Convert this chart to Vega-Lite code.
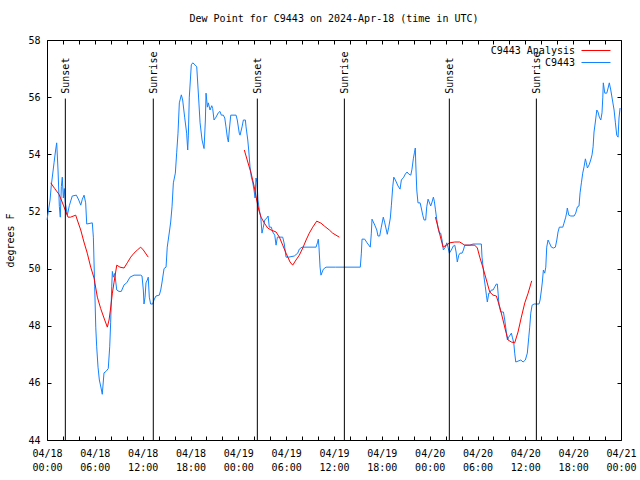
{
"$schema":"https://vega.github.io/schema/vega-lite/v6.json",
"width":574,"height":400,
"autosize":{"type":"none"},
"padding":{"left":47,"top":40,"right":19,"bottom":40},
"background":"white",
"title":{"text":"Dew Point for C9443 on 2024-Apr-18 (time in UTC)","font":"DejaVu Sans Mono","fontSize":10,"fontWeight":"normal","offset":11,"color":"black"},
"config":{
 "view":{"stroke":"black","strokeWidth":1},
 "axis":{"labelFont":"DejaVu Sans Mono","labelFontSize":10,"labelColor":"black","titleFont":"DejaVu Sans Mono","titleFontSize":10,"titleFontWeight":"normal","titleColor":"black","grid":false,"domain":false,"tickColor":"black","tickWidth":1},
 "legend":{"labelFont":"DejaVu Sans Mono","labelFontSize":10,"labelColor":"black"}
},
"datasets":{
"obs":[
{"t":"2024-04-18T00:00:00Z","v":51.7},{"t":"2024-04-18T00:23:00Z","v":52.4},{"t":"2024-04-18T00:32:00Z","v":52.9},{"t":"2024-04-18T00:53:00Z","v":53.7},{"t":"2024-04-18T01:05:00Z","v":54.15},{"t":"2024-04-18T01:13:00Z","v":54.4},{"t":"2024-04-18T01:23:00Z","v":53.45},{"t":"2024-04-18T01:33:00Z","v":52.17},{"t":"2024-04-18T01:40:00Z","v":51.8},{"t":"2024-04-18T01:48:00Z","v":52.87},{"t":"2024-04-18T01:55:00Z","v":53.2},{"t":"2024-04-18T02:03:00Z","v":52.47},{"t":"2024-04-18T02:10:00Z","v":52.8},{"t":"2024-04-18T02:18:00Z","v":52.3},{"t":"2024-04-18T02:33:00Z","v":51.87},{"t":"2024-04-18T02:48:00Z","v":52.2},{"t":"2024-04-18T03:10:00Z","v":52.54},{"t":"2024-04-18T03:41:00Z","v":52.57},{"t":"2024-04-18T03:59:00Z","v":52.4},{"t":"2024-04-18T04:14:00Z","v":52.22},{"t":"2024-04-18T04:26:00Z","v":52.43},{"t":"2024-04-18T04:39:00Z","v":52.57},{"t":"2024-04-18T04:51:00Z","v":52.3},{"t":"2024-04-18T04:59:00Z","v":51.56},{"t":"2024-04-18T05:41:00Z","v":51.6},{"t":"2024-04-18T05:49:00Z","v":51.1},{"t":"2024-04-18T05:59:00Z","v":49.36},{"t":"2024-04-18T06:07:00Z","v":47.95},{"t":"2024-04-18T06:14:00Z","v":47.26},{"t":"2024-04-18T06:24:00Z","v":46.55},{"t":"2024-04-18T06:34:00Z","v":46.1},{"t":"2024-04-18T06:47:00Z","v":45.82},{"t":"2024-04-18T06:56:00Z","v":45.6},{"t":"2024-04-18T07:09:00Z","v":46.35},{"t":"2024-04-18T07:24:00Z","v":46.4},{"t":"2024-04-18T07:41:00Z","v":46.5},{"t":"2024-04-18T07:52:00Z","v":47.26},{"t":"2024-04-18T07:59:00Z","v":48.1},{"t":"2024-04-18T08:07:00Z","v":49.36},{"t":"2024-04-18T08:12:00Z","v":49.9},{"t":"2024-04-18T08:19:00Z","v":49.7},{"t":"2024-04-18T08:30:00Z","v":49.83},{"t":"2024-04-18T08:45:00Z","v":49.25},{"t":"2024-04-18T09:02:00Z","v":49.2},{"t":"2024-04-18T09:19:00Z","v":49.2},{"t":"2024-04-18T09:40:00Z","v":49.43},{"t":"2024-04-18T10:00:00Z","v":49.5},{"t":"2024-04-18T10:25:00Z","v":49.7},{"t":"2024-04-18T10:55:00Z","v":49.77},{"t":"2024-04-18T11:45:00Z","v":49.77},{"t":"2024-04-18T11:55:00Z","v":49.74},{"t":"2024-04-18T12:05:00Z","v":49.25},{"t":"2024-04-18T12:10:00Z","v":48.76},{"t":"2024-04-18T12:18:00Z","v":49.0},{"t":"2024-04-18T12:25:00Z","v":49.5},{"t":"2024-04-18T12:35:00Z","v":49.6},{"t":"2024-04-18T12:42:00Z","v":49.7},{"t":"2024-04-18T12:50:00Z","v":49.0},{"t":"2024-04-18T13:00:00Z","v":48.76},{"t":"2024-04-18T13:16:00Z","v":48.76},{"t":"2024-04-18T13:25:00Z","v":48.9},{"t":"2024-04-18T13:40:00Z","v":49.04},{"t":"2024-04-18T14:05:00Z","v":49.07},{"t":"2024-04-18T14:16:00Z","v":49.25},{"t":"2024-04-18T14:26:00Z","v":49.53},{"t":"2024-04-18T14:41:00Z","v":50.0},{"t":"2024-04-18T14:56:00Z","v":50.05},{"t":"2024-04-18T15:05:00Z","v":50.75},{"t":"2024-04-18T15:21:00Z","v":51.28},{"t":"2024-04-18T15:31:00Z","v":51.63},{"t":"2024-04-18T15:41:00Z","v":52.16},{"t":"2024-04-18T15:51:00Z","v":53.0},{"t":"2024-04-18T16:06:00Z","v":53.34},{"t":"2024-04-18T16:16:00Z","v":54.05},{"t":"2024-04-18T16:26:00Z","v":54.74},{"t":"2024-04-18T16:36:00Z","v":55.8},{"t":"2024-04-18T16:51:00Z","v":56.08},{"t":"2024-04-18T17:01:00Z","v":55.9},{"t":"2024-04-18T17:16:00Z","v":55.3},{"t":"2024-04-18T17:31:00Z","v":54.74},{"t":"2024-04-18T17:39:00Z","v":54.15},{"t":"2024-04-18T17:44:00Z","v":54.67},{"t":"2024-04-18T17:51:00Z","v":56.0},{"t":"2024-04-18T18:06:00Z","v":57.13},{"t":"2024-04-18T18:17:00Z","v":57.2},{"t":"2024-04-18T18:34:00Z","v":57.13},{"t":"2024-04-18T18:47:00Z","v":57.06},{"t":"2024-04-18T19:02:00Z","v":55.9},{"t":"2024-04-18T19:12:00Z","v":55.1},{"t":"2024-04-18T19:27:00Z","v":54.5},{"t":"2024-04-18T19:42:00Z","v":54.2},{"t":"2024-04-18T19:52:00Z","v":55.2},{"t":"2024-04-18T19:57:00Z","v":56.14},{"t":"2024-04-18T20:07:00Z","v":55.65},{"t":"2024-04-18T20:14:00Z","v":55.8},{"t":"2024-04-18T20:27:00Z","v":55.55},{"t":"2024-04-18T20:40:00Z","v":55.7},{"t":"2024-04-18T20:47:00Z","v":55.6},{"t":"2024-04-18T20:57:00Z","v":55.2},{"t":"2024-04-18T21:12:00Z","v":55.3},{"t":"2024-04-18T21:29:00Z","v":55.45},{"t":"2024-04-18T21:42:00Z","v":55.5},{"t":"2024-04-18T21:52:00Z","v":55.37},{"t":"2024-04-18T22:07:00Z","v":55.37},{"t":"2024-04-18T22:18:00Z","v":55.27},{"t":"2024-04-18T22:27:00Z","v":54.96},{"t":"2024-04-18T22:37:00Z","v":54.6},{"t":"2024-04-18T22:45:00Z","v":54.43},{"t":"2024-04-18T22:52:00Z","v":54.85},{"t":"2024-04-18T23:03:00Z","v":55.37},{"t":"2024-04-18T23:43:00Z","v":55.37},{"t":"2024-04-18T23:52:00Z","v":55.2},
{"t":"2024-04-19T00:07:00Z","v":54.74},{"t":"2024-04-19T00:13:00Z","v":54.67},{"t":"2024-04-19T00:28:00Z","v":54.96},{"t":"2024-04-19T00:38:00Z","v":55.2},{"t":"2024-04-19T00:53:00Z","v":55.2},{"t":"2024-04-19T00:58:00Z","v":54.96},{"t":"2024-04-19T01:11:00Z","v":54.5},{"t":"2024-04-19T01:18:00Z","v":54.15},{"t":"2024-04-19T01:28:00Z","v":53.56},{"t":"2024-04-19T01:38:00Z","v":53.2},{"t":"2024-04-19T01:48:00Z","v":53.03},{"t":"2024-04-19T01:58:00Z","v":52.75},{"t":"2024-04-19T02:06:00Z","v":52.47},{"t":"2024-04-19T02:13:00Z","v":53.17},{"t":"2024-04-19T02:21:00Z","v":53.0},{"t":"2024-04-19T02:28:00Z","v":52.4},{"t":"2024-04-19T02:38:00Z","v":52.05},{"t":"2024-04-19T02:49:00Z","v":51.8},{"t":"2024-04-19T02:58:00Z","v":51.24},{"t":"2024-04-19T03:08:00Z","v":51.45},{"t":"2024-04-19T03:19:00Z","v":51.7},{"t":"2024-04-19T03:34:00Z","v":51.77},{"t":"2024-04-19T03:44:00Z","v":51.84},{"t":"2024-04-19T03:53:00Z","v":51.45},{"t":"2024-04-19T04:08:00Z","v":51.45},{"t":"2024-04-19T04:19:00Z","v":51.28},{"t":"2024-04-19T04:34:00Z","v":51.17},{"t":"2024-04-19T04:44:00Z","v":50.82},{"t":"2024-04-19T04:54:00Z","v":51.1},{"t":"2024-04-19T05:34:00Z","v":51.1},{"t":"2024-04-19T05:46:00Z","v":50.86},{"t":"2024-04-19T05:59:00Z","v":50.4},{"t":"2024-04-19T06:19:00Z","v":50.4},{"t":"2024-04-19T07:01:00Z","v":50.44},{"t":"2024-04-19T07:27:00Z","v":50.54},{"t":"2024-04-19T07:39:00Z","v":50.68},{"t":"2024-04-19T07:59:00Z","v":50.75},{"t":"2024-04-19T09:45:00Z","v":50.75},{"t":"2024-04-19T09:55:00Z","v":50.9},{"t":"2024-04-19T10:02:00Z","v":51.03},{"t":"2024-04-19T10:07:00Z","v":50.75},{"t":"2024-04-19T10:15:00Z","v":50.05},{"t":"2024-04-19T10:22:00Z","v":49.77},{"t":"2024-04-19T10:40:00Z","v":49.98},{"t":"2024-04-19T11:00:00Z","v":50.05},{"t":"2024-04-19T12:10:00Z","v":50.05},{"t":"2024-04-19T15:18:00Z","v":50.05},{"t":"2024-04-19T15:26:00Z","v":50.54},{"t":"2024-04-19T15:31:00Z","v":51.03},{"t":"2024-04-19T15:51:00Z","v":51.03},{"t":"2024-04-19T16:09:00Z","v":50.9},{"t":"2024-04-19T16:33:00Z","v":50.75},{"t":"2024-04-19T16:41:00Z","v":51.24},{"t":"2024-04-19T16:46:00Z","v":51.73},{"t":"2024-04-19T17:07:00Z","v":51.52},{"t":"2024-04-19T17:22:00Z","v":51.35},{"t":"2024-04-19T17:31:00Z","v":51.14},{"t":"2024-04-19T17:44:00Z","v":51.14},{"t":"2024-04-19T17:56:00Z","v":51.45},{"t":"2024-04-19T18:11:00Z","v":51.8},{"t":"2024-04-19T18:22:00Z","v":51.6},{"t":"2024-04-19T18:34:00Z","v":51.35},{"t":"2024-04-19T18:41:00Z","v":51.2},{"t":"2024-04-19T18:52:00Z","v":51.45},{"t":"2024-04-19T19:04:00Z","v":51.77},{"t":"2024-04-19T19:12:00Z","v":52.22},{"t":"2024-04-19T19:22:00Z","v":52.86},{"t":"2024-04-19T19:30:00Z","v":53.2},{"t":"2024-04-19T19:42:00Z","v":53.1},{"t":"2024-04-19T20:02:00Z","v":52.89},{"t":"2024-04-19T20:17:00Z","v":52.78},{"t":"2024-04-19T20:27:00Z","v":53.1},{"t":"2024-04-19T20:45:00Z","v":53.2},{"t":"2024-04-19T20:57:00Z","v":53.31},{"t":"2024-04-19T21:10:00Z","v":53.38},{"t":"2024-04-19T21:22:00Z","v":53.31},{"t":"2024-04-19T21:38:00Z","v":53.27},{"t":"2024-04-19T21:47:00Z","v":53.48},{"t":"2024-04-19T21:57:00Z","v":53.84},{"t":"2024-04-19T22:05:00Z","v":54.05},{"t":"2024-04-19T22:12:00Z","v":54.22},{"t":"2024-04-19T22:15:00Z","v":53.73},{"t":"2024-04-19T22:23:00Z","v":52.75},{"t":"2024-04-19T22:32:00Z","v":52.3},{"t":"2024-04-19T22:48:00Z","v":52.3},{"t":"2024-04-19T22:57:00Z","v":52.12},{"t":"2024-04-19T23:08:00Z","v":51.87},{"t":"2024-04-19T23:18:00Z","v":51.7},{"t":"2024-04-19T23:30:00Z","v":51.7},{"t":"2024-04-19T23:38:00Z","v":52.16},{"t":"2024-04-19T23:48:00Z","v":52.43},
{"t":"2024-04-20T00:08:00Z","v":52.19},{"t":"2024-04-20T00:18:00Z","v":52.33},{"t":"2024-04-20T00:28:00Z","v":52.5},{"t":"2024-04-20T00:35:00Z","v":52.36},{"t":"2024-04-20T00:43:00Z","v":52.08},{"t":"2024-04-20T00:53:00Z","v":51.73},{"t":"2024-04-20T01:03:00Z","v":51.42},{"t":"2024-04-20T01:13:00Z","v":51.24},{"t":"2024-04-20T01:23:00Z","v":51.24},{"t":"2024-04-20T01:33:00Z","v":51.0},{"t":"2024-04-20T01:43:00Z","v":50.65},{"t":"2024-04-20T01:58:00Z","v":50.75},{"t":"2024-04-20T02:09:00Z","v":50.9},{"t":"2024-04-20T02:18:00Z","v":50.75},{"t":"2024-04-20T02:28:00Z","v":50.54},{"t":"2024-04-20T02:43:00Z","v":50.65},{"t":"2024-04-20T02:58:00Z","v":50.79},{"t":"2024-04-20T03:09:00Z","v":50.82},{"t":"2024-04-20T03:19:00Z","v":50.58},{"t":"2024-04-20T03:28:00Z","v":50.23},{"t":"2024-04-20T03:39:00Z","v":50.47},{"t":"2024-04-20T03:49:00Z","v":50.54},{"t":"2024-04-20T04:04:00Z","v":50.54},{"t":"2024-04-20T04:14:00Z","v":50.65},{"t":"2024-04-20T04:24:00Z","v":50.82},{"t":"2024-04-20T05:02:00Z","v":50.82},{"t":"2024-04-20T05:27:00Z","v":50.86},{"t":"2024-04-20T06:29:00Z","v":50.86},{"t":"2024-04-20T06:34:00Z","v":50.4},{"t":"2024-04-20T06:42:00Z","v":50.05},{"t":"2024-04-20T06:49:00Z","v":49.7},{"t":"2024-04-20T06:59:00Z","v":49.36},{"t":"2024-04-20T07:07:00Z","v":49.07},{"t":"2024-04-20T07:14:00Z","v":48.83},{"t":"2024-04-20T07:25:00Z","v":49.14},{"t":"2024-04-20T07:32:00Z","v":49.14},{"t":"2024-04-20T07:44:00Z","v":49.25},{"t":"2024-04-20T07:57:00Z","v":49.25},{"t":"2024-04-20T08:10:00Z","v":49.36},{"t":"2024-04-20T08:22:00Z","v":49.46},{"t":"2024-04-20T08:29:00Z","v":49.46},{"t":"2024-04-20T08:35:00Z","v":49.14},{"t":"2024-04-20T08:42:00Z","v":48.72},{"t":"2024-04-20T08:55:00Z","v":48.48},{"t":"2024-04-20T09:15:00Z","v":48.48},{"t":"2024-04-20T09:25:00Z","v":48.2},{"t":"2024-04-20T09:35:00Z","v":47.85},{"t":"2024-04-20T09:45:00Z","v":47.5},{"t":"2024-04-20T09:55:00Z","v":47.6},{"t":"2024-04-20T10:05:00Z","v":47.67},{"t":"2024-04-20T10:15:00Z","v":47.74},{"t":"2024-04-20T10:22:00Z","v":47.6},{"t":"2024-04-20T10:33:00Z","v":47.4},{"t":"2024-04-20T10:40:00Z","v":47.04},{"t":"2024-04-20T10:48:00Z","v":46.73},{"t":"2024-04-20T11:05:00Z","v":46.76},{"t":"2024-04-20T11:26:00Z","v":46.8},{"t":"2024-04-20T11:43:00Z","v":46.73},{"t":"2024-04-20T12:00:00Z","v":46.8},{"t":"2024-04-20T12:15:00Z","v":47.04},{"t":"2024-04-20T12:26:00Z","v":47.6},{"t":"2024-04-20T12:33:00Z","v":47.95},{"t":"2024-04-20T12:41:00Z","v":48.44},{"t":"2024-04-20T12:51:00Z","v":48.72},{"t":"2024-04-20T13:06:00Z","v":48.76},{"t":"2024-04-20T13:43:00Z","v":48.76},{"t":"2024-04-20T13:51:00Z","v":48.9},{"t":"2024-04-20T14:01:00Z","v":49.25},{"t":"2024-04-20T14:08:00Z","v":49.53},{"t":"2024-04-20T14:16:00Z","v":49.95},{"t":"2024-04-20T14:26:00Z","v":49.84},{"t":"2024-04-20T14:34:00Z","v":50.05},{"t":"2024-04-20T14:41:00Z","v":50.75},{"t":"2024-04-20T14:51:00Z","v":51.0},{"t":"2024-04-20T15:01:00Z","v":50.9},{"t":"2024-04-20T15:16:00Z","v":50.75},{"t":"2024-04-20T15:31:00Z","v":50.72},{"t":"2024-04-20T15:46:00Z","v":50.75},{"t":"2024-04-20T15:57:00Z","v":51.0},{"t":"2024-04-20T16:06:00Z","v":51.28},{"t":"2024-04-20T16:16:00Z","v":51.45},{"t":"2024-04-20T16:42:00Z","v":51.45},{"t":"2024-04-20T16:51:00Z","v":51.59},{"t":"2024-04-20T17:04:00Z","v":51.8},{"t":"2024-04-20T17:12:00Z","v":51.98},{"t":"2024-04-20T17:16:00Z","v":52.12},{"t":"2024-04-20T17:27:00Z","v":51.87},{"t":"2024-04-20T17:42:00Z","v":51.84},{"t":"2024-04-20T18:07:00Z","v":51.84},{"t":"2024-04-20T18:19:00Z","v":51.94},{"t":"2024-04-20T18:32:00Z","v":52.16},{"t":"2024-04-20T18:44:00Z","v":52.19},{"t":"2024-04-20T18:52:00Z","v":52.65},{"t":"2024-04-20T19:02:00Z","v":53.0},{"t":"2024-04-20T19:12:00Z","v":53.34},{"t":"2024-04-20T19:22:00Z","v":53.56},{"t":"2024-04-20T19:32:00Z","v":53.84},{"t":"2024-04-20T19:39:00Z","v":53.7},{"t":"2024-04-20T19:47:00Z","v":53.52},{"t":"2024-04-20T20:00:00Z","v":53.63},{"t":"2024-04-20T20:12:00Z","v":53.8},{"t":"2024-04-20T20:22:00Z","v":53.98},{"t":"2024-04-20T20:30:00Z","v":54.26},{"t":"2024-04-20T20:37:00Z","v":54.78},{"t":"2024-04-20T20:47:00Z","v":55.13},{"t":"2024-04-20T20:58:00Z","v":55.55},{"t":"2024-04-20T21:07:00Z","v":55.48},{"t":"2024-04-20T21:17:00Z","v":55.3},{"t":"2024-04-20T21:28:00Z","v":55.2},{"t":"2024-04-20T21:37:00Z","v":55.45},{"t":"2024-04-20T21:43:00Z","v":56.0},{"t":"2024-04-20T21:47:00Z","v":56.5},{"t":"2024-04-20T21:58:00Z","v":56.14},{"t":"2024-04-20T22:13:00Z","v":56.14},{"t":"2024-04-20T22:23:00Z","v":56.32},{"t":"2024-04-20T22:32:00Z","v":56.5},{"t":"2024-04-20T22:43:00Z","v":56.25},{"t":"2024-04-20T22:58:00Z","v":55.83},{"t":"2024-04-20T23:08:00Z","v":55.55},{"t":"2024-04-20T23:18:00Z","v":55.1},{"t":"2024-04-20T23:28:00Z","v":54.67},{"t":"2024-04-20T23:38:00Z","v":54.6},{"t":"2024-04-20T23:45:00Z","v":55.27},{"t":"2024-04-20T23:53:00Z","v":55.62}
],
"ana":[
{"t":"2024-04-18T00:28:00Z","v":53.0,"g":1},{"t":"2024-04-18T00:58:00Z","v":52.8,"g":1},{"t":"2024-04-18T01:30:00Z","v":52.6,"g":1},{"t":"2024-04-18T01:48:00Z","v":52.4,"g":1},{"t":"2024-04-18T02:03:00Z","v":52.22,"g":1},{"t":"2024-04-18T02:21:00Z","v":52.0,"g":1},{"t":"2024-04-18T02:38:00Z","v":51.8,"g":1},{"t":"2024-04-18T02:58:00Z","v":51.8,"g":1},{"t":"2024-04-18T03:36:00Z","v":51.87,"g":1},{"t":"2024-04-18T03:48:00Z","v":51.7,"g":1},{"t":"2024-04-18T04:14:00Z","v":51.35,"g":1},{"t":"2024-04-18T04:38:00Z","v":50.93,"g":1},{"t":"2024-04-18T05:03:00Z","v":50.54,"g":1},{"t":"2024-04-18T05:29:00Z","v":50.05,"g":1},{"t":"2024-04-18T05:54:00Z","v":49.67,"g":1},{"t":"2024-04-18T06:19:00Z","v":49.0,"g":1},{"t":"2024-04-18T06:44:00Z","v":48.6,"g":1},{"t":"2024-04-18T07:09:00Z","v":48.27,"g":1},{"t":"2024-04-18T07:34:00Z","v":47.95,"g":1},{"t":"2024-04-18T07:47:00Z","v":48.2,"g":1},{"t":"2024-04-18T07:59:00Z","v":48.62,"g":1},{"t":"2024-04-18T08:12:00Z","v":49.14,"g":1},{"t":"2024-04-18T08:24:00Z","v":49.5,"g":1},{"t":"2024-04-18T08:45:00Z","v":50.12,"g":1},{"t":"2024-04-18T09:09:00Z","v":50.05,"g":1},{"t":"2024-04-18T09:40:00Z","v":50.02,"g":1},{"t":"2024-04-18T10:04:00Z","v":50.2,"g":1},{"t":"2024-04-18T10:30:00Z","v":50.4,"g":1},{"t":"2024-04-18T10:55:00Z","v":50.54,"g":1},{"t":"2024-04-18T11:20:00Z","v":50.65,"g":1},{"t":"2024-04-18T11:45:00Z","v":50.75,"g":1},{"t":"2024-04-18T12:05:00Z","v":50.65,"g":1},{"t":"2024-04-18T12:42:00Z","v":50.4,"g":1},
{"t":"2024-04-19T00:45:00Z","v":54.15,"g":2},{"t":"2024-04-19T01:11:00Z","v":53.73,"g":2},{"t":"2024-04-19T01:36:00Z","v":53.34,"g":2},{"t":"2024-04-19T02:00:00Z","v":52.86,"g":2},{"t":"2024-04-19T02:18:00Z","v":52.4,"g":2},{"t":"2024-04-19T02:34:00Z","v":52.05,"g":2},{"t":"2024-04-19T02:51:00Z","v":51.8,"g":2},{"t":"2024-04-19T03:16:00Z","v":51.59,"g":2},{"t":"2024-04-19T03:41:00Z","v":51.42,"g":2},{"t":"2024-04-19T04:06:00Z","v":51.35,"g":2},{"t":"2024-04-19T04:44:00Z","v":51.28,"g":2},{"t":"2024-04-19T05:09:00Z","v":51.1,"g":2},{"t":"2024-04-19T05:34:00Z","v":50.82,"g":2},{"t":"2024-04-19T05:59:00Z","v":50.54,"g":2},{"t":"2024-04-19T06:29:00Z","v":50.23,"g":2},{"t":"2024-04-19T06:49:00Z","v":50.12,"g":2},{"t":"2024-04-19T07:14:00Z","v":50.3,"g":2},{"t":"2024-04-19T07:39:00Z","v":50.47,"g":2},{"t":"2024-04-19T08:05:00Z","v":50.72,"g":2},{"t":"2024-04-19T08:30:00Z","v":51.0,"g":2},{"t":"2024-04-19T08:54:00Z","v":51.24,"g":2},{"t":"2024-04-19T09:20:00Z","v":51.45,"g":2},{"t":"2024-04-19T09:50:00Z","v":51.66,"g":2},{"t":"2024-04-19T10:22:00Z","v":51.59,"g":2},{"t":"2024-04-19T10:47:00Z","v":51.49,"g":2},{"t":"2024-04-19T11:25:00Z","v":51.35,"g":2},{"t":"2024-04-19T11:50:00Z","v":51.24,"g":2},{"t":"2024-04-19T12:15:00Z","v":51.17,"g":2},{"t":"2024-04-19T12:40:00Z","v":51.1,"g":2},
{"t":"2024-04-20T00:43:00Z","v":51.8,"g":3},{"t":"2024-04-20T01:03:00Z","v":51.45,"g":3},{"t":"2024-04-20T01:23:00Z","v":51.07,"g":3},{"t":"2024-04-20T01:41:00Z","v":50.75,"g":3},{"t":"2024-04-20T02:06:00Z","v":50.82,"g":3},{"t":"2024-04-20T02:31:00Z","v":50.9,"g":3},{"t":"2024-04-20T03:09:00Z","v":50.93,"g":3},{"t":"2024-04-20T03:46:00Z","v":50.93,"g":3},{"t":"2024-04-20T04:24:00Z","v":50.82,"g":3},{"t":"2024-04-20T05:39:00Z","v":50.82,"g":3},{"t":"2024-04-20T05:59:00Z","v":50.72,"g":3},{"t":"2024-04-20T06:17:00Z","v":50.4,"g":3},{"t":"2024-04-20T06:42:00Z","v":50.02,"g":3},{"t":"2024-04-20T07:07:00Z","v":49.6,"g":3},{"t":"2024-04-20T07:32:00Z","v":49.18,"g":3},{"t":"2024-04-20T07:57:00Z","v":49.07,"g":3},{"t":"2024-04-20T08:22:00Z","v":49.04,"g":3},{"t":"2024-04-20T08:48:00Z","v":48.65,"g":3},{"t":"2024-04-20T09:12:00Z","v":48.2,"g":3},{"t":"2024-04-20T09:30:00Z","v":47.85,"g":3},{"t":"2024-04-20T09:50:00Z","v":47.5,"g":3},{"t":"2024-04-20T10:15:00Z","v":47.43,"g":3},{"t":"2024-04-20T10:40:00Z","v":47.4,"g":3},{"t":"2024-04-20T11:05:00Z","v":47.78,"g":3},{"t":"2024-04-20T11:30:00Z","v":48.3,"g":3},{"t":"2024-04-20T11:56:00Z","v":48.8,"g":3},{"t":"2024-04-20T12:21:00Z","v":49.14,"g":3},{"t":"2024-04-20T12:48:00Z","v":49.57,"g":3}
],
"sun":[
{"t":"2024-04-18T02:18:00Z","label":"Sunset"},{"t":"2024-04-18T13:20:00Z","label":"Sunrise"},{"t":"2024-04-19T02:23:00Z","label":"Sunset"},{"t":"2024-04-19T13:18:00Z","label":"Sunrise"},{"t":"2024-04-20T02:28:00Z","label":"Sunset"},{"t":"2024-04-20T13:23:00Z","label":"Sunrise"}
]
},
"layer":[
{"data":{"name":"obs"},
 "mark":{"type":"line","strokeWidth":1},
 "encoding":{
  "x":{"field":"t","type":"temporal","scale":{"type":"utc","domain":[1713398400000,1713657600000],"nice":false},
   "axis":{"orient":"bottom","title":null,"values":[1713398400000,1713405600000,1713412800000,1713420000000,1713427200000,1713434400000,1713441600000,1713448800000,1713456000000,1713463200000,1713470400000,1713477600000,1713484800000,1713492000000,1713499200000,1713506400000,1713513600000,1713520800000,1713528000000,1713535200000,1713542400000,1713549600000,1713556800000,1713564000000,1713571200000,1713578400000,1713585600000,1713592800000,1713600000000,1713607200000,1713614400000,1713621600000,1713628800000,1713636000000,1713643200000,1713650400000,1713657600000],"tickSize":-4,"labelExpr":"utchours(datum.value) % 6 == 0 ? [utcFormat(datum.value,'%m/%d'), utcFormat(datum.value,'%H:%M')] : ''","labelOverlap":false,"labelFlush":false,"labelPadding":12,"labelLineHeight":14,"labelBaseline":"top"}},
  "y":{"field":"v","type":"quantitative","scale":{"domain":[44,58],"nice":false,"zero":false},
   "axis":{"orient":"left","title":"degrees F","values":[44,46,48,50,52,54,56,58],"tickSize":-4,"labelPadding":11,"titlePadding":12}},
  "color":{"datum":"C9443","type":"nominal","scale":{"domain":["C9443 Analysis","C9443"],"range":["#ff0000","#1482ff"]},
   "legend":{"title":null,"orient":"none","legendX":528,"legendY":4,"padding":0,"symbolType":"M0,0H4.83","symbolSize":144,"symbolStrokeWidth":1,"labelAlign":"right","labelOffset":-13,"rowPadding":0}}
 }},
{"data":{"name":"ana"},
 "mark":{"type":"line","strokeWidth":1},
 "encoding":{
  "x":{"field":"t","type":"temporal","axis":{"orient":"top","title":null,"values":[1713398400000,1713405600000,1713412800000,1713420000000,1713427200000,1713434400000,1713441600000,1713448800000,1713456000000,1713463200000,1713470400000,1713477600000,1713484800000,1713492000000,1713499200000,1713506400000,1713513600000,1713520800000,1713528000000,1713535200000,1713542400000,1713549600000,1713556800000,1713564000000,1713571200000,1713578400000,1713585600000,1713592800000,1713600000000,1713607200000,1713614400000,1713621600000,1713628800000,1713636000000,1713643200000,1713650400000,1713657600000],"tickSize":-4,"labels":false}},
  "y":{"field":"v","type":"quantitative","axis":{"orient":"right","title":null,"values":[44,46,48,50,52,54,56,58],"tickSize":-4,"labels":false}},
  "detail":{"field":"g","type":"nominal"},
  "color":{"datum":"C9443 Analysis","type":"nominal"}
 }},
{"data":{"name":"sun"},
 "mark":{"type":"rule","color":"black","strokeWidth":1},
 "encoding":{
  "x":{"field":"t","type":"temporal","axis":null},
  "y":{"datum":55.95,"type":"quantitative","axis":null},
  "y2":{"datum":44}
 }},
{"data":{"name":"sun"},
 "mark":{"type":"text","angle":270,"align":"left","baseline":"middle","font":"DejaVu Sans Mono","fontSize":10,"color":"black","dy":1},
 "encoding":{
  "x":{"field":"t","type":"temporal","axis":null},
  "y":{"datum":56.12,"type":"quantitative","axis":null},
  "text":{"field":"label"}
 }}
],
"resolve":{"axis":{"x":"independent","y":"independent"}}
}
